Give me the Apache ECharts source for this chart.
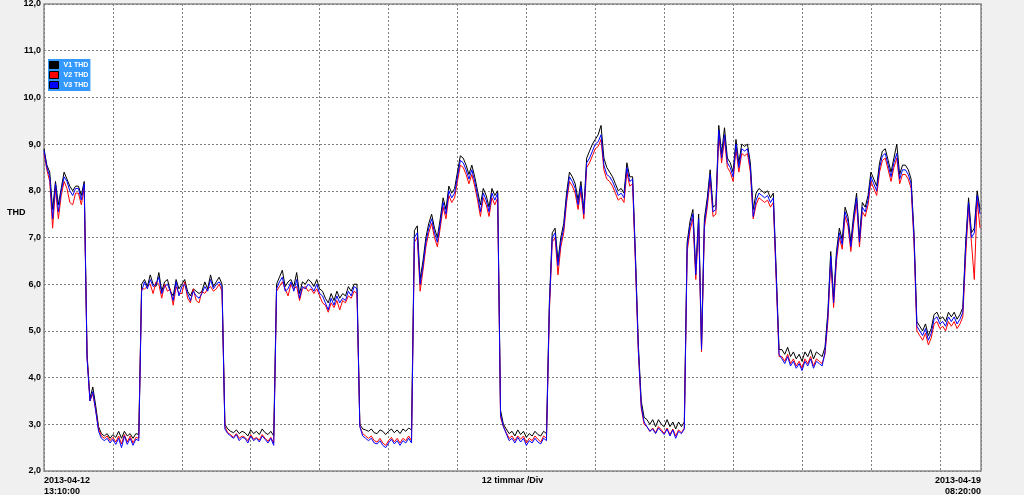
<!DOCTYPE html>
<html><head><meta charset="utf-8">
<script src="https://cdn.jsdelivr.net/npm/echarts@6.0.0/dist/echarts.min.js"></script>
<style>html,body{margin:0;padding:0;background:#f0f0f0;}#chart{width:1024px;height:495px;}</style>
</head><body><div id="chart"></div>
<script>
const seriesNames = ['V1 THD', 'V2 THD', 'V3 THD'];
const seriesColors = ['#000000', '#ff0000', '#0000ff'];
const stepHours = 0.5;                 // one sample every 30 minutes
const spanHours = 163 + 10 / 60;       // 2013-04-12 13:10 -> 2013-04-19 08:20
const divHours = 12;
const startLabel = '2013-04-12\n13:10:00';
const endLabel = '2013-04-19\n08:20:00';
const xDivLabel = '12 timmar /Div';
const yName = 'THD';
const yMin = 2, yMax = 12, yStep = 1;

const v1 = [
  8.9, 8.55, 8.4, 7.6, 8.2, 7.7, 8.05, 8.4, 8.25, 8.1, 8.0, 8.1, 8.1, 7.9, 8.2,
  4.5, 3.55, 3.8, 3.4, 2.95,
  2.8, 2.75, 2.8, 2.7, 2.78, 2.72, 2.85, 2.7, 2.85, 2.75, 2.8, 2.7, 2.8, 2.78,
  6.0, 6.1, 5.95, 6.2, 6.0, 5.95, 6.25, 5.85, 6.05, 6.1, 5.85, 5.75, 6.1, 5.9, 6.0, 6.1, 5.85, 5.75, 5.9, 5.85, 5.8, 5.85, 6.05, 5.9, 6.2, 5.95, 6.05, 6.15, 6.0,
  3.0, 2.9, 2.85, 2.82, 2.88, 2.8, 2.85, 2.82, 2.75, 2.88, 2.8, 2.85, 2.78, 2.9, 2.82, 2.78, 2.85, 2.75,
  6.0, 6.15, 6.3, 5.95, 6.05, 6.1, 5.95, 6.25, 5.8, 6.05, 6.0, 6.1, 6.05, 5.95, 6.1, 5.9, 5.85, 5.7, 5.6, 5.8, 5.65, 5.85, 5.7, 5.8, 5.75, 5.95, 5.85, 6.0, 6.0,
  3.0, 2.9, 2.88, 2.85, 2.9, 2.82, 2.8, 2.88, 2.85, 2.78, 2.85, 2.9, 2.82, 2.88, 2.8, 2.9, 2.85, 2.92, 2.88,
  7.15, 7.25, 6.1, 6.5, 7.0, 7.3, 7.5, 7.2, 7.0, 7.4, 7.85, 7.6, 8.1, 7.95, 8.05, 8.4, 8.75, 8.7, 8.55, 8.35, 8.55, 8.3, 8.0, 7.7, 8.05, 7.9, 7.65, 8.05, 7.9, 8.0, 3.3,
  3.0, 2.9, 2.8, 2.85, 2.75, 2.88, 2.78, 2.85, 2.72, 2.8, 2.75, 2.85, 2.78, 2.75, 2.85, 2.8, 5.6,
  7.1, 7.2, 6.5, 7.0, 7.3, 7.95, 8.4, 8.3, 8.15, 7.8, 8.2, 7.6, 8.7, 8.85, 9.0, 9.1, 9.2, 9.4, 8.7, 8.5, 8.4, 8.3, 8.15, 8.0, 8.05, 7.95, 8.6, 8.3, 8.3, 6.6, 4.7, 3.5, 3.15,
  3.1, 3.0, 3.1, 2.95, 3.1, 3.0, 2.95, 3.1, 2.95, 3.05, 2.9, 3.05, 2.95, 3.05,
  6.9, 7.35, 7.6, 6.3, 7.5, 4.7, 7.4, 7.85, 8.45, 7.65, 7.7, 9.4, 8.8, 9.35, 8.7, 8.6, 8.4, 9.1, 8.6, 9.0, 8.95, 9.0, 8.6, 7.6, 7.95, 8.05, 8.0, 7.95, 8.0, 7.85, 7.95, 6.3, 4.6,
  4.6, 4.5, 4.65, 4.45, 4.55, 4.4, 4.5, 4.35, 4.55, 4.45, 4.6, 4.4, 4.55, 4.5, 4.45,
  4.65, 5.4, 6.7, 5.7, 6.7, 7.2, 6.95, 7.65, 7.45, 6.9, 7.5, 7.95, 7.0, 7.75, 7.65, 7.9, 8.4, 8.25, 8.1, 8.6, 8.85, 8.9, 8.65, 8.4, 8.7, 9.0, 8.35, 8.55, 8.55, 8.45, 8.25, 7.1, 5.2,
  5.1, 5.0, 5.15, 4.9, 5.05, 5.35, 5.4, 5.25, 5.3, 5.2, 5.4, 5.3, 5.4, 5.25, 5.35,
  5.5, 6.9, 7.85, 7.1, 7.2, 8.0, 7.6
];
const v2 = [
  8.8, 8.45, 8.2, 7.2, 8.05, 7.4, 7.9, 8.2, 8.05, 7.75, 7.7, 7.95, 7.95, 7.7, 8.05,
  4.45, 3.5, 3.65, 3.3, 2.9,
  2.75, 2.7, 2.75, 2.65, 2.72, 2.62, 2.75, 2.58, 2.78, 2.62, 2.75, 2.6, 2.72, 2.7,
  5.9, 5.9, 5.95, 6.0, 5.8, 6.05, 6.0, 5.7, 6.0, 5.85, 5.9, 5.55, 5.95, 5.8, 5.8, 6.05, 5.7, 5.6, 5.9, 5.65, 5.6, 5.85, 5.8, 5.9, 5.95, 5.85, 5.9, 6.0, 5.85,
  2.95, 2.82, 2.78, 2.72, 2.8, 2.7, 2.75, 2.72, 2.65, 2.78, 2.68, 2.72, 2.66, 2.78, 2.7, 2.64, 2.72, 2.6,
  5.85, 5.95, 6.05, 5.9, 5.75, 6.0, 5.9, 5.95, 5.65, 5.9, 5.95, 5.85, 5.9, 5.8, 5.9, 5.75, 5.6, 5.55, 5.4, 5.6, 5.5, 5.65, 5.45, 5.65, 5.6, 5.75, 5.7, 5.85, 5.8,
  2.95, 2.8, 2.75, 2.7, 2.75, 2.65, 2.62, 2.7, 2.6, 2.55, 2.65, 2.72, 2.62, 2.7, 2.6, 2.7, 2.65, 2.75, 2.65,
  6.9, 7.0, 5.85, 6.3, 6.8, 7.1, 7.3, 7.0, 6.8, 7.2, 7.65, 7.4, 7.9, 7.75, 7.85, 8.2, 8.55, 8.5, 8.35, 8.15, 8.35, 8.1, 7.8, 7.45, 7.85, 7.7, 7.45, 7.85, 7.7, 7.85, 3.15,
  2.95, 2.82, 2.7, 2.75, 2.65, 2.75, 2.68, 2.75, 2.6, 2.7, 2.65, 2.75, 2.68, 2.62, 2.75, 2.7, 5.4,
  6.9, 7.0, 6.2, 6.8, 7.1, 7.75, 8.2, 8.1, 7.95, 7.6, 8.0, 7.4, 8.5, 8.6, 8.75, 8.9, 8.95, 9.1, 8.45, 8.25, 8.2, 8.1, 7.95, 7.8, 7.85, 7.75, 8.4, 8.1, 8.15, 6.4, 4.55, 3.35, 3.0,
  2.95, 2.85, 2.92, 2.82, 2.95, 2.88, 2.8, 2.92, 2.78, 2.9, 2.75, 2.88, 2.82, 2.92,
  6.7, 7.15, 7.4, 6.1, 7.3, 4.55, 7.2, 7.65, 8.25, 7.45, 7.5, 9.2, 8.6, 9.1, 8.5, 8.4, 8.2, 8.9, 8.4, 8.8, 8.75, 8.8, 8.4, 7.4, 7.7, 7.85, 7.8, 7.75, 7.8, 7.65, 7.75, 6.1, 4.45,
  4.45, 4.35, 4.5, 4.3, 4.4, 4.25, 4.35, 4.2, 4.4, 4.3, 4.45, 4.25, 4.4, 4.35, 4.3,
  4.5, 5.2, 6.5, 5.5, 6.5, 7.0, 6.75, 7.45, 7.25, 6.7, 7.3, 7.75, 6.8, 7.55, 7.45, 7.7, 8.2, 8.05, 7.9, 8.4, 8.65, 8.7, 8.45, 8.2, 8.5, 8.7, 8.15, 8.35, 8.35, 8.25, 8.05, 6.9, 5.0,
  4.9, 4.8, 4.95, 4.7, 4.85, 5.15, 5.2, 5.05, 5.1, 5.0, 5.2, 5.1, 5.2, 5.05, 5.15,
  5.3, 6.6, 7.65, 6.9, 6.1, 7.8, 7.2
];
const v3 = [
  8.86, 8.5, 8.3, 7.4, 8.15, 7.55, 8.0, 8.3, 8.2, 8.0, 7.9, 8.05, 8.05, 7.8, 8.15,
  4.4, 3.5, 3.7, 3.3, 2.85,
  2.7, 2.65, 2.7, 2.6, 2.68, 2.57, 2.7, 2.5, 2.75, 2.57, 2.7, 2.55, 2.68, 2.65,
  5.85, 6.05, 5.9, 6.1, 5.95, 6.0, 6.15, 5.8, 5.95, 6.0, 5.85, 5.65, 6.05, 5.75, 5.95, 6.0, 5.8, 5.65, 5.85, 5.75, 5.7, 5.8, 5.95, 5.85, 6.1, 5.9, 6.0, 6.05, 5.95,
  2.9, 2.8, 2.75, 2.7, 2.78, 2.65, 2.72, 2.7, 2.6, 2.75, 2.65, 2.7, 2.62, 2.75, 2.68, 2.6, 2.7, 2.55,
  5.9, 6.05, 6.15, 5.85, 5.9, 6.05, 5.85, 6.1, 5.7, 5.95, 5.9, 6.0, 5.95, 5.85, 6.0, 5.8, 5.75, 5.6, 5.45, 5.7, 5.55, 5.75, 5.6, 5.7, 5.65, 5.85, 5.75, 5.95, 5.9,
  2.95, 2.75, 2.7, 2.65, 2.7, 2.6, 2.58, 2.65, 2.55, 2.5, 2.6, 2.68, 2.58, 2.65, 2.55, 2.65, 2.6, 2.7, 2.6,
  7.0, 7.1, 6.0, 6.4, 6.9, 7.2, 7.4, 7.1, 6.9, 7.3, 7.75, 7.5, 8.0, 7.85, 7.95, 8.3, 8.65, 8.6, 8.45, 8.25, 8.45, 8.2, 7.9, 7.55, 7.95, 7.8, 7.55, 7.95, 7.8, 7.95, 3.2,
  2.95, 2.8, 2.65, 2.7, 2.6, 2.72, 2.62, 2.7, 2.55, 2.65, 2.6, 2.7, 2.62, 2.58, 2.7, 2.65, 5.5,
  7.0, 7.1, 6.4, 6.9, 7.2, 7.85, 8.3, 8.2, 8.05, 7.7, 8.1, 7.5, 8.6, 8.7, 8.85, 9.0, 9.05, 9.2, 8.55, 8.35, 8.3, 8.2, 8.05, 7.9, 7.95, 7.85, 8.5, 8.2, 8.25, 6.5, 4.6, 3.4, 3.05,
  2.95, 2.85, 2.9, 2.8, 2.92, 2.85, 2.78, 2.9, 2.75, 2.88, 2.7, 2.85, 2.8, 2.9,
  6.8, 7.25, 7.5, 6.2, 7.4, 4.6, 7.3, 7.75, 8.35, 7.55, 7.6, 9.3, 8.7, 9.2, 8.6, 8.5, 8.3, 9.0, 8.5, 8.9, 8.85, 8.9, 8.5, 7.45, 7.8, 7.95, 7.9, 7.85, 7.9, 7.75, 7.85, 6.2, 4.5,
  4.4, 4.3, 4.45, 4.25, 4.35, 4.2, 4.3, 4.15, 4.35, 4.25, 4.4, 4.2, 4.35, 4.3, 4.25,
  4.55, 5.3, 6.6, 5.6, 6.6, 7.1, 6.85, 7.55, 7.35, 6.8, 7.4, 7.85, 6.9, 7.65, 7.55, 7.8, 8.3, 8.15, 8.0, 8.5, 8.75, 8.8, 8.55, 8.3, 8.6, 8.8, 8.25, 8.45, 8.45, 8.35, 8.15, 7.0, 5.1,
  5.0, 4.9, 5.05, 4.8, 4.95, 5.25, 5.3, 5.15, 5.2, 5.1, 5.3, 5.2, 5.3, 5.15, 5.25,
  5.4, 6.8, 7.75, 7.0, 7.1, 7.9, 7.5
];

const FONT = '"Liberation Sans", Arial, sans-serif';
const valuesBySeries = [v1, v2, v3];
const toPairs = arr => arr.map((v, i) => [i * stepHours, v]);

const chart = echarts.init(document.getElementById('chart'), null, { renderer: 'canvas' });
chart.setOption({
  animation: false,
  backgroundColor: '#f0f0f0',
  title: {
    text: yName, left: 2, top: 203,
    textStyle: { fontFamily: FONT, fontSize: 9, fontWeight: 'bold', color: '#000' }
  },
  grid: {
    left: 44, right: 43, top: 4, bottom: 24,
    outerBoundsMode: 'none', containLabel: false,
    show: true, backgroundColor: '#ffffff', borderColor: '#8a8a8a', borderWidth: 1.5
  },
  legend: {
    data: seriesNames, orient: 'vertical', left: 48, top: 59,
    icon: 'rect', itemWidth: 9, itemHeight: 7, itemGap: 0,
    backgroundColor: '#3399ff', padding: [1, 2, 1, 1], selectedMode: false,
    itemStyle: { borderColor: '#000', borderWidth: 1 },
    textStyle: { color: '#ffffff', fontFamily: FONT, fontSize: 7, fontWeight: 'bold', lineHeight: 10 }
  },
  xAxis: {
    type: 'value', min: 0, max: spanHours, interval: divHours,
    name: xDivLabel, nameLocation: 'middle', nameGap: 5, nameMoveOverlap: false,
    nameTextStyle: { fontFamily: FONT, fontSize: 9, fontWeight: 'bold', color: '#000' },
    axisLine: { show: false }, axisTick: { show: false },
    axisLabel: {
      show: true, margin: 4, showMinLabel: true, showMaxLabel: true,
      alignMinLabel: 'left', alignMaxLabel: 'right',
      fontFamily: FONT, fontSize: 9, fontWeight: 'bold', color: '#000', lineHeight: 11,
      formatter: v => (v === 0 ? startLabel : (Math.abs(v - spanHours) < 1e-6 ? endLabel : ''))
    },
    splitLine: { show: true, lineStyle: { color: '#808080', width: 1, type: [2, 2] } }
  },
  yAxis: {
    type: 'value', min: yMin, max: yMax, interval: yStep,
    axisLine: { show: false }, axisTick: { show: false },
    axisLabel: {
      margin: 3, fontFamily: FONT, fontSize: 9, fontWeight: 'bold', color: '#000',
      formatter: v => v.toFixed(1).replace('.', ',')
    },
    splitLine: { show: true, lineStyle: { color: '#808080', width: 1, type: [2, 2] } }
  },
  series: seriesNames.map((name, k) => ({
    name, type: 'line', data: toPairs(valuesBySeries[k]),
    showSymbol: false, symbol: 'none', sampling: null,
    color: seriesColors[k],
    lineStyle: { color: seriesColors[k], width: 1 },
    z: 2 + k
  }))
});
</script>
</body></html>
